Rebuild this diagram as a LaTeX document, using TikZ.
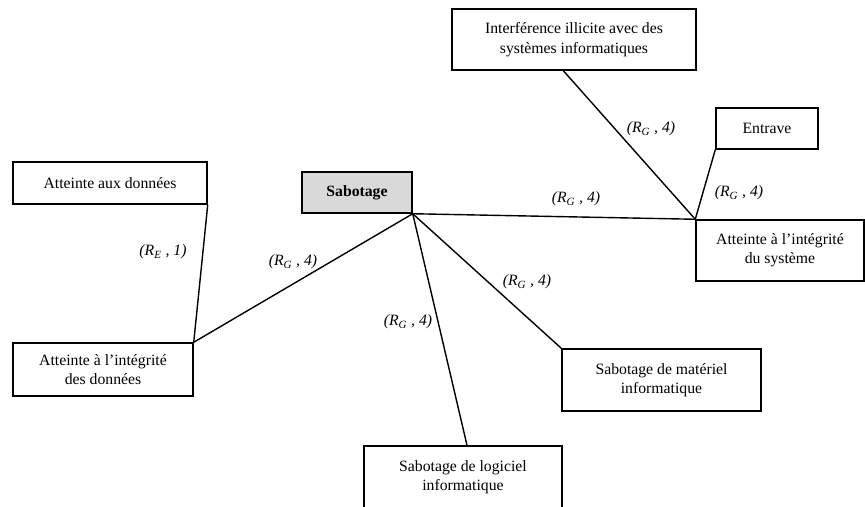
\documentclass[tikz,border=0pt]{standalone}
\usepackage{fontspec}
\setmainfont{Liberation Serif}
\begin{document}
\begin{tikzpicture}[x=0.75pt,y=-0.75pt,
  box/.style={draw, line width=1.1pt, inner sep=0pt, align=center,
    font=\fontsize{11.8}{14.5}\selectfont},
  link/.style={line width=1.05pt},
  rel/.style={inner sep=0pt, font=\fontsize{11.8}{14}\selectfont\itshape}]
\useasboundingbox (0,0) rectangle (865,507);
\clip (0,0) rectangle (865,507);

% central offence
\node[box, fill=black!15, minimum width=82.5pt, minimum height=30.75pt] (sab) at (357,192.5) {\textbf{Sabotage}};

% related offences
\node[box, minimum width=145.5pt, minimum height=31.5pt] (donnees) at (110,183) {Atteinte aux données};
\node[box, minimum width=135pt, minimum height=39.75pt] (integ) at (103,369.5) {Atteinte à l’intégrité\\des données};
\node[box, minimum width=183pt, minimum height=45.75pt] (interf) at (574,39.5) {Interférence illicite avec des\\systèmes informatiques};
\node[box, minimum width=76.5pt, minimum height=30.75pt] (entrave) at (767,128.5) {Entrave};
\node[box, minimum width=126pt, minimum height=45.75pt] (systeme) at (780,250.5) {Atteinte à l’intégrité\\du système};
\node[box, minimum width=149.25pt, minimum height=46.5pt] (materiel) at (661.5,380) {Sabotage de matériel\\informatique};
\node[box, minimum width=148.5pt, minimum height=46.5pt] (logiciel) at (463,477) {Sabotage de logiciel\\informatique};

% links
\draw[link] (sab.south east) -- (integ.north east);
\draw[link] (donnees.south east) -- (integ.north east);
\draw[link] (sab.south east) -- ([xshift=3pt]logiciel.north);
\draw[link] (sab.south east) -- (materiel.north west);
\draw[link] (sab.south east) -- (systeme.north west);
\draw[link] ([xshift=-8pt]interf.south) -- (systeme.north west);
\draw[link] (entrave.south west) -- (systeme.north west);

% relation labels
\node[rel] (l1) at (163,252) {(R\textsubscript{E} , 1)};
\node[rel] (l2) at (293,262) {(R\textsubscript{G} , 4)};
\node[rel] (l3) at (408,322) {(R\textsubscript{G} , 4)};
\node[rel] (l4) at (527,282) {(R\textsubscript{G} , 4)};
\node[rel] (l5) at (576,199) {(R\textsubscript{G} , 4)};
\node[rel] (l6) at (651,129) {(R\textsubscript{G} , 4)};
\node[rel] (l7) at (739,193) {(R\textsubscript{G} , 4)};
\end{tikzpicture}
\end{document}
